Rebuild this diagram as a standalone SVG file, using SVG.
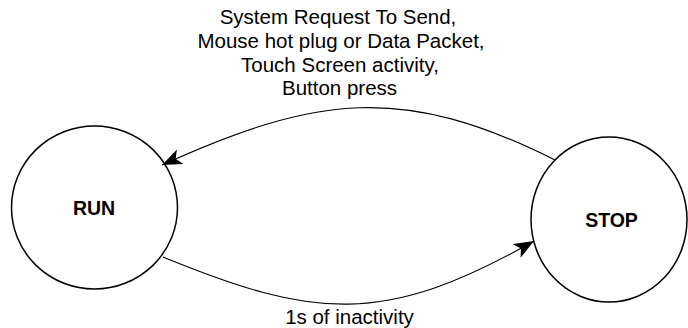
<svg xmlns="http://www.w3.org/2000/svg" width="688" height="328" viewBox="0 0 688 328">
<style>
.state{fill:#fff;stroke:#000;stroke-width:1.5}
.lbl{font-family:"Liberation Sans",Arial,sans-serif;font-size:20.5px;fill:#000;text-anchor:middle}
.name{font-family:"Liberation Sans",Arial,sans-serif;font-size:19.5px;font-weight:bold;fill:#000;text-anchor:middle}
.edge{fill:none;stroke:#000;stroke-width:1.1;marker-end:url(#arr)}
</style>
<defs>
<marker id="arr" markerUnits="userSpaceOnUse" markerWidth="24" markerHeight="18" refX="20" refY="8" orient="auto">
<path d="M0,0 L20,8 L0,16 L5,8 z" fill="#000"/>
</marker>
</defs>
<g id="run">
<ellipse class="state" cx="94.5" cy="207.5" rx="83" ry="81.5"/>
<text class="name" x="94" y="215">RUN</text>
</g>
<g id="stop">
<ellipse class="state" cx="609" cy="219.5" rx="78" ry="82.5"/>
<text class="name" x="611.5" y="227">STOP</text>
</g>
<g id="connectors">
<path class="edge" d="M555,160 C403,84 317,95 162,165"/>
<path class="edge" d="M163,257 C313,318.5 384,326.5 534,241"/>
</g>
<g id="labels">
<text class="lbl" x="338" y="24">System Request To Send,</text>
<text class="lbl" x="341" y="48">Mouse hot plug or Data Packet,</text>
<text class="lbl" x="340" y="72">Touch Screen activity,</text>
<text class="lbl" x="339.5" y="95">Button press</text>
<text class="lbl" x="349.5" y="324">1s of inactivity</text>
</g>
</svg>
